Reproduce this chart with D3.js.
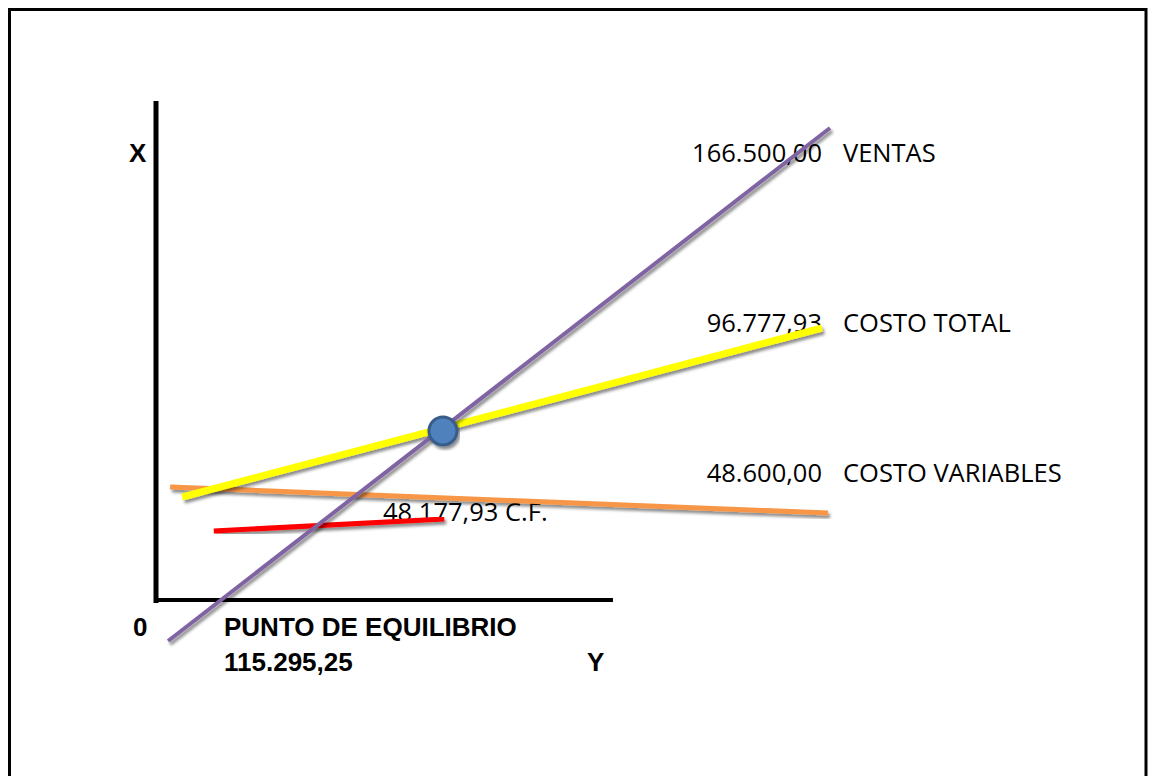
<!DOCTYPE html>
<html lang="es">
<head>
<meta charset="UTF-8">
<title>Punto de equilibrio</title>
<script src="https://d3js.org/d3.v7.min.js"></script>
<style>
  body { margin: 0; background: #fff; }
  .num { font-family: "Open Sans", "Noto Sans", sans-serif; font-size: 25.5px; fill: #000; }
  .bold { font-family: "Liberation Sans", Arial, sans-serif; font-weight: bold; font-size: 26px; fill: #000; }
</style>
</head>
<body>
<div id="chart"></div>
<script>
// series (units of the sketch: 0..100 on both axes)
const series = ["VENTAS", "COSTO TOTAL", "COSTO VARIABLES", "C.F."];
const x0 = [1.8, 3.9, 2.1, 8.6];
const y0 = [-8.2, 20.6, 22.6, 13.8];
const x1 = [100.3, 99.1, 100, 42.9];
const y1 = [94.4, 54.4, 17.4, 16.2];
const values = ["166.500,00", "96.777,93", "48.600,00", "48.177,93"];
const colors = ["#8064a2", "#ffff00", "#f79646", "#ff0000"];
const widths = [4, 7, 5, 5];

// break-even point
const eqX = 42.7, eqY = 33.8;
const eqLabel = ["PUNTO DE EQUILIBRIO", "115.295,25"];

const W = 1149, H = 776;
const svg = d3.select("#chart").append("svg")
  .attr("width", W).attr("height", H);

const defs = svg.append("defs");
const f = defs.append("filter").attr("id", "shadow")
  .attr("x", "-10%").attr("y", "-10%").attr("width", "120%").attr("height", "130%");
f.append("feDropShadow").attr("dx", 2).attr("dy", 3)
  .attr("stdDeviation", 1.8).attr("flood-color", "#000").attr("flood-opacity", 0.45);

const x = d3.scaleLinear().domain([0, 100]).range([156, 828]);
const y = d3.scaleLinear().domain([0, 100]).range([600, 100]);

// frame
svg.append("rect")
  .attr("x", 9.5).attr("y", 9.5).attr("width", 1136.5).attr("height", 800)
  .attr("fill", "none").attr("stroke", "#000").attr("stroke-width", 3);

// axes
svg.append("line")
  .attr("x1", x(0)).attr("x2", x(0)).attr("y1", y(99.8)).attr("y2", y(-0.6))
  .attr("stroke", "#000").attr("stroke-width", 5);
svg.append("line")
  .attr("x1", x(-0.3)).attr("x2", x(68)).attr("y1", y(0)).attr("y2", y(0))
  .attr("stroke", "#000").attr("stroke-width", 4);

// texts
svg.append("text").attr("class", "bold").attr("x", 129).attr("y", 162).text("X");
svg.append("text").attr("class", "bold").attr("x", 133).attr("y", 636).text("0");
svg.append("text").attr("class", "bold").attr("x", 587).attr("y", 671).text("Y");
svg.append("text").attr("class", "bold").attr("x", 224).attr("y", 636).text(eqLabel[0]);
svg.append("text").attr("class", "bold").attr("x", 224).attr("y", 671).text(eqLabel[1]);

const labelBase = [162, 332, 482];
series.slice(0, 3).forEach((s, i) => {
  svg.append("text").attr("class", "num")
    .attr("x", 822).attr("y", labelBase[i]).attr("text-anchor", "end").text(values[i]);
  svg.append("text").attr("class", "num")
    .attr("x", 843).attr("y", labelBase[i]).text(s);
});
svg.append("text").attr("class", "num")
  .attr("x", 383).attr("y", 521).text(values[3] + " " + series[3]);

// lines
const order = [2, 3, 1, 0];
order.forEach(i => {
  svg.append("line")
    .attr("x1", x(x0[i])).attr("y1", y(y0[i]))
    .attr("x2", x(x1[i])).attr("y2", y(y1[i]))
    .attr("stroke", colors[i]).attr("stroke-width", widths[i])
    .attr("filter", "url(#shadow)");
});

svg.append("circle")
  .attr("cx", x(eqX)).attr("cy", y(eqY)).attr("r", 14)
  .attr("fill", "#4f81bd").attr("stroke", "#385d8a").attr("stroke-width", 3)
  .attr("filter", "url(#shadow)");
</script>
</body>
</html>
